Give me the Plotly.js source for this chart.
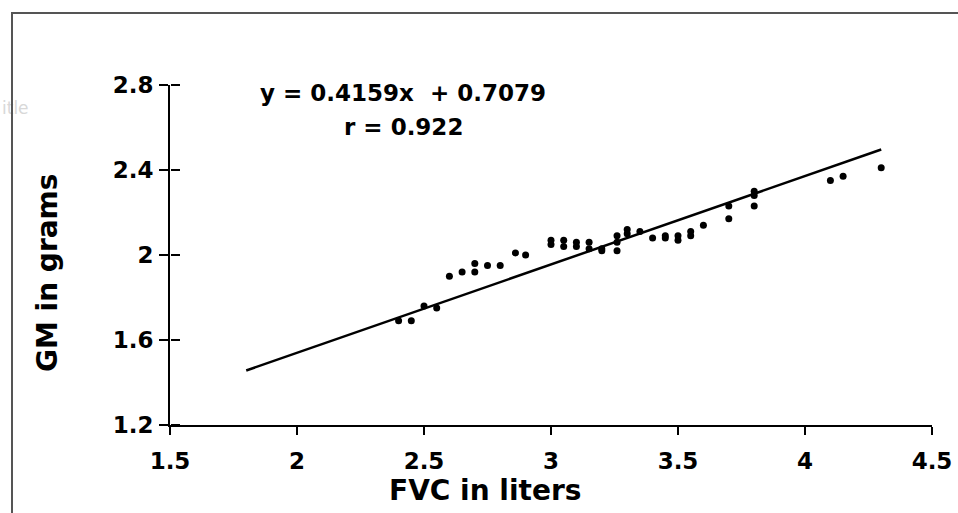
<!DOCTYPE html>
<html>
<head>
<meta charset="utf-8">
<script src="https://cdn.plot.ly/plotly-3.0.1.min.js"></script>
<style>
  html, body { margin: 0; padding: 0; background: #fff; }
  #wrap { position: relative; width: 958px; height: 513px; }
  #chart { width: 958px; height: 513px; }
  #frame { position: absolute; left: 11px; top: 12px; right: -2px; bottom: -2px;
           border-top: 2px solid #555; border-left: 2px solid #555; pointer-events: none; }
</style>
</head>
<body>
<div id="wrap">
  <div id="chart"></div>
  <div id="frame"></div>
</div>
<script>
// FVC (liters) vs GM (grams)
const fvc = [2.40, 2.45, 2.50, 2.55, 2.60, 2.65, 2.70, 2.70, 2.75, 2.80, 2.86, 2.90,
             3.00, 3.00, 3.05, 3.05, 3.10, 3.10, 3.15, 3.15, 3.20, 3.20,
             3.26, 3.26, 3.26, 3.30, 3.30, 3.35, 3.40, 3.45, 3.45, 3.50, 3.50,
             3.55, 3.55, 3.60, 3.70, 3.70, 3.80, 3.80, 3.80, 4.10, 4.15, 4.30];
const gm  = [1.69, 1.69, 1.76, 1.75, 1.90, 1.92, 1.96, 1.92, 1.95, 1.95, 2.01, 2.00,
             2.07, 2.05, 2.07, 2.04, 2.06, 2.04, 2.06, 2.03, 2.02, 2.03,
             2.09, 2.06, 2.02, 2.12, 2.10, 2.11, 2.08, 2.09, 2.08, 2.09, 2.07,
             2.11, 2.09, 2.14, 2.23, 2.17, 2.30, 2.28, 2.23, 2.35, 2.37, 2.41];
const slope = 0.4159;
const intercept = 0.7079;
const fitX = [1.8, 4.3];
const fitY = fitX.map(v => slope * v + intercept);
const eqText = "y = 0.4159x  + 0.7079";
const rText = "r = 0.922";
const xTitle = "FVC in liters";
const yTitle = "GM in grams";
const yTicks = [1.2, 1.6, 2, 2.4, 2.8];
const xTicks = [1.5, 2, 2.5, 3, 3.5, 4, 4.5];

const FONT = "DejaVu Sans, Arial, sans-serif";

const traces = [
  { x: fitX, y: fitY, type: "scatter", mode: "lines",
    line: { color: "#000", width: 2.5 }, hoverinfo: "skip", showlegend: false },
  { x: fvc, y: gm, type: "scatter", mode: "markers",
    marker: { color: "#000", size: 7 }, showlegend: false }
];

const layout = {
  width: 958, height: 513,
  margin: { l: 170, r: 26, t: 85, b: 88 },
  paper_bgcolor: "#fff", plot_bgcolor: "#fff",
  showlegend: false,
  xaxis: {
    range: [1.5, 4.5], tickvals: xTicks, showgrid: false, zeroline: false,
    showline: true, linecolor: "#000", linewidth: 2,
    ticks: "outside", ticklen: 8, tickwidth: 2, tickcolor: "#000",
    tickfont: { family: FONT, size: 23, color: "#000", weight: "bold" },
    ticklabelstandoff: 6
  },
  yaxis: {
    range: [1.2, 2.8], tickvals: yTicks, showgrid: false, zeroline: false,
    showline: true, linecolor: "#000", linewidth: 2,
    ticks: "outside", ticklen: 9, tickwidth: 2, tickcolor: "#000",
    tickfont: { family: FONT, size: 23, color: "#000", weight: "bold" },
    ticklabelstandoff: 1
  },
  // companion axis drawing the inner half of the crossing y ticks
  yaxis2: {
    range: [1.2, 2.8], tickvals: yTicks, overlaying: "y", side: "right",
    anchor: "free", position: 0,
    showgrid: false, zeroline: false, showline: false, showticklabels: false,
    ticks: "outside", ticklen: 9, tickwidth: 2, tickcolor: "#000"
  },
  annotations: [
    { xref: "paper", yref: "paper", x: 0.3058, y: 0.976, text: eqText, showarrow: false,
      xanchor: "center", yanchor: "middle",
      font: { family: FONT, size: 23, color: "#000", weight: "bold" } },
    { xref: "paper", yref: "paper", x: 0.3058, y: 0.876, text: rText, showarrow: false,
      xanchor: "center", yanchor: "middle",
      font: { family: FONT, size: 23, color: "#000", weight: "bold" } },
    // axis titles (placed off-centre as in the original)
    { xref: "paper", yref: "paper", x: 0.4134, y: -0.192, text: xTitle, showarrow: false,
      xanchor: "center", yanchor: "middle",
      font: { family: FONT, size: 28, color: "#000", weight: "bold" } },
    { xref: "paper", yref: "paper", x: -0.1614, y: 0.447, text: yTitle, showarrow: false,
      textangle: -90, xanchor: "center", yanchor: "middle",
      font: { family: FONT, size: 28, color: "#000", weight: "bold" } },
    { xref: "paper", yref: "paper", x: -0.2231, y: 0.932, text: "itle", showarrow: false,
      xanchor: "left", yanchor: "middle",
      font: { family: "DejaVu Sans, sans-serif", size: 17, color: "#d8d8d8" } }
  ]
};

// invisible trace to activate the companion y axis
traces.push({ x: [1.5], y: [1.2], yaxis: "y2", type: "scatter", mode: "markers",
              marker: { opacity: 0 }, hoverinfo: "skip", showlegend: false });

Plotly.newPlot("chart", traces, layout, { displayModeBar: false, staticPlot: true });
</script>
</body>
</html>
